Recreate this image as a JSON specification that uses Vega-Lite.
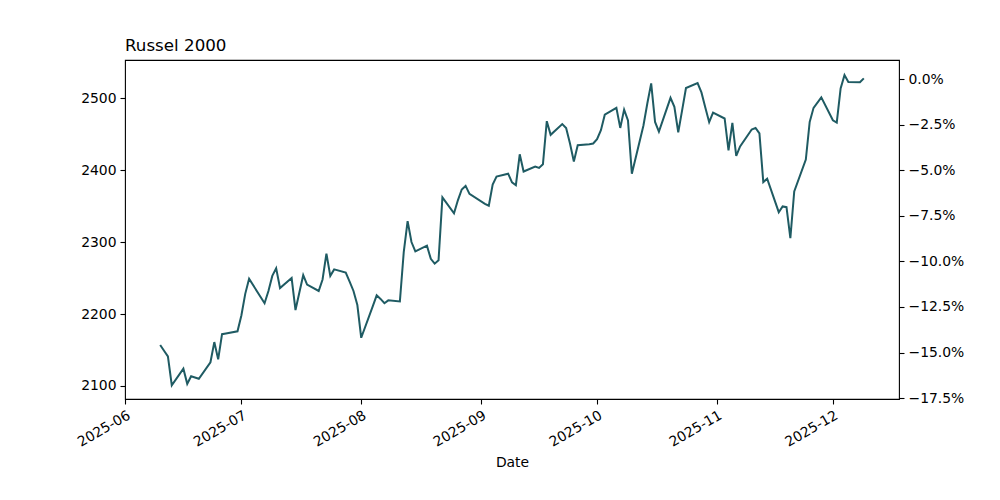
{
  "$schema": "https://vega.github.io/schema/vega-lite/v6.json",
  "width": 774,
  "height": 339,
  "autosize": "none",
  "padding": {"left": 125, "top": 60, "right": 101, "bottom": 101},
  "background": "white",
  "title": {"text": "Russel 2000", "anchor": "start", "frame": "group", "font": "DejaVu Sans", "fontSize": 16.7, "fontWeight": "normal", "color": "black", "offset": 5},
  "config": {
    "view": {"stroke": "black", "strokeWidth": 1.1},
    "axis": {"domain": false, "grid": false, "tickColor": "black", "tickWidth": 1.1, "tickSize": 5, "labelFont": "DejaVu Sans", "labelFontSize": 13.9, "labelColor": "black", "labelPadding": 4, "titleFont": "DejaVu Sans", "titleFontSize": 13.9, "titleFontWeight": "normal", "titleColor": "black"}
  },
  "layer": [
    {
      "data": {"values": [
        {"date": "2025-06-10", "close": 2157},
        {"date": "2025-06-11", "close": 2149},
        {"date": "2025-06-12", "close": 2141},
        {"date": "2025-06-13", "close": 2101},
        {"date": "2025-06-16", "close": 2124},
        {"date": "2025-06-17", "close": 2103},
        {"date": "2025-06-18", "close": 2113.5},
        {"date": "2025-06-20", "close": 2110},
        {"date": "2025-06-23", "close": 2133},
        {"date": "2025-06-24", "close": 2161},
        {"date": "2025-06-25", "close": 2137},
        {"date": "2025-06-26", "close": 2172},
        {"date": "2025-06-27", "close": 2173},
        {"date": "2025-06-30", "close": 2176},
        {"date": "2025-07-01", "close": 2198},
        {"date": "2025-07-02", "close": 2228},
        {"date": "2025-07-03", "close": 2249},
        {"date": "2025-07-07", "close": 2215},
        {"date": "2025-07-08", "close": 2232},
        {"date": "2025-07-09", "close": 2253},
        {"date": "2025-07-10", "close": 2263.5},
        {"date": "2025-07-11", "close": 2236},
        {"date": "2025-07-14", "close": 2250},
        {"date": "2025-07-15", "close": 2205.5},
        {"date": "2025-07-16", "close": 2230},
        {"date": "2025-07-17", "close": 2254},
        {"date": "2025-07-18", "close": 2241},
        {"date": "2025-07-21", "close": 2232},
        {"date": "2025-07-22", "close": 2248},
        {"date": "2025-07-23", "close": 2284},
        {"date": "2025-07-24", "close": 2253},
        {"date": "2025-07-25", "close": 2262},
        {"date": "2025-07-28", "close": 2257.5},
        {"date": "2025-07-29", "close": 2245},
        {"date": "2025-07-30", "close": 2232},
        {"date": "2025-07-31", "close": 2212.5},
        {"date": "2025-08-01", "close": 2167},
        {"date": "2025-08-04", "close": 2211},
        {"date": "2025-08-05", "close": 2226},
        {"date": "2025-08-06", "close": 2221},
        {"date": "2025-08-07", "close": 2215},
        {"date": "2025-08-08", "close": 2219},
        {"date": "2025-08-11", "close": 2217.5},
        {"date": "2025-08-12", "close": 2286},
        {"date": "2025-08-13", "close": 2329},
        {"date": "2025-08-14", "close": 2300},
        {"date": "2025-08-15", "close": 2287},
        {"date": "2025-08-18", "close": 2295},
        {"date": "2025-08-19", "close": 2276.6},
        {"date": "2025-08-20", "close": 2270},
        {"date": "2025-08-21", "close": 2274.6},
        {"date": "2025-08-22", "close": 2362},
        {"date": "2025-08-25", "close": 2340},
        {"date": "2025-08-26", "close": 2358},
        {"date": "2025-08-27", "close": 2373},
        {"date": "2025-08-28", "close": 2378},
        {"date": "2025-08-29", "close": 2367},
        {"date": "2025-09-02", "close": 2353},
        {"date": "2025-09-03", "close": 2350.5},
        {"date": "2025-09-04", "close": 2380},
        {"date": "2025-09-05", "close": 2391},
        {"date": "2025-09-08", "close": 2395},
        {"date": "2025-09-09", "close": 2383},
        {"date": "2025-09-10", "close": 2379},
        {"date": "2025-09-11", "close": 2422},
        {"date": "2025-09-12", "close": 2398},
        {"date": "2025-09-15", "close": 2405},
        {"date": "2025-09-16", "close": 2403},
        {"date": "2025-09-17", "close": 2408},
        {"date": "2025-09-18", "close": 2468},
        {"date": "2025-09-19", "close": 2449},
        {"date": "2025-09-22", "close": 2464},
        {"date": "2025-09-23", "close": 2458.6},
        {"date": "2025-09-24", "close": 2436.9},
        {"date": "2025-09-25", "close": 2412},
        {"date": "2025-09-26", "close": 2434.5},
        {"date": "2025-09-29", "close": 2436},
        {"date": "2025-09-30", "close": 2437},
        {"date": "2025-10-01", "close": 2443},
        {"date": "2025-10-02", "close": 2455.4},
        {"date": "2025-10-03", "close": 2477},
        {"date": "2025-10-06", "close": 2486.5},
        {"date": "2025-10-07", "close": 2458.6},
        {"date": "2025-10-08", "close": 2484},
        {"date": "2025-10-09", "close": 2469},
        {"date": "2025-10-10", "close": 2395},
        {"date": "2025-10-13", "close": 2462},
        {"date": "2025-10-14", "close": 2492.6},
        {"date": "2025-10-15", "close": 2520.5},
        {"date": "2025-10-16", "close": 2467},
        {"date": "2025-10-17", "close": 2453.6},
        {"date": "2025-10-20", "close": 2500.4},
        {"date": "2025-10-21", "close": 2488},
        {"date": "2025-10-22", "close": 2452.6},
        {"date": "2025-10-23", "close": 2483},
        {"date": "2025-10-24", "close": 2514},
        {"date": "2025-10-27", "close": 2521},
        {"date": "2025-10-28", "close": 2508},
        {"date": "2025-10-29", "close": 2487},
        {"date": "2025-10-30", "close": 2466.6},
        {"date": "2025-10-31", "close": 2480},
        {"date": "2025-11-03", "close": 2471.7},
        {"date": "2025-11-04", "close": 2427.5},
        {"date": "2025-11-05", "close": 2465.6},
        {"date": "2025-11-06", "close": 2419.6},
        {"date": "2025-11-07", "close": 2433},
        {"date": "2025-11-10", "close": 2456.4},
        {"date": "2025-11-11", "close": 2458.6},
        {"date": "2025-11-12", "close": 2451},
        {"date": "2025-11-13", "close": 2383.3},
        {"date": "2025-11-14", "close": 2388},
        {"date": "2025-11-17", "close": 2341.5},
        {"date": "2025-11-18", "close": 2349.5},
        {"date": "2025-11-19", "close": 2348.5},
        {"date": "2025-11-20", "close": 2305.3},
        {"date": "2025-11-21", "close": 2370.4},
        {"date": "2025-11-24", "close": 2414.6},
        {"date": "2025-11-25", "close": 2467},
        {"date": "2025-11-26", "close": 2486.5},
        {"date": "2025-11-28", "close": 2501},
        {"date": "2025-12-01", "close": 2469.3},
        {"date": "2025-12-02", "close": 2466},
        {"date": "2025-12-03", "close": 2513.5},
        {"date": "2025-12-04", "close": 2532},
        {"date": "2025-12-05", "close": 2522.3},
        {"date": "2025-12-08", "close": 2522},
        {"date": "2025-12-09", "close": 2527.5}
      ]},
      "mark": {"type": "line", "color": "#1f5b63", "strokeWidth": 2},
      "encoding": {
        "x": {
          "field": "date", "type": "temporal",
          "scale": {"type": "utc", "domain": [
            {"year": 2025, "month": 5, "date": 31, "hours": 21, "minutes": 36, "utc": true},
            {"year": 2025, "month": 12, "date": 18, "hours": 2, "minutes": 24, "utc": true}
          ]},
          "axis": {
            "title": "Date",
            "titlePadding": 6,
            "format": "%Y-%m",
            "labelAngle": -30,
            "labelAlign": "right",
            "labelBaseline": "top",
            "labelOverlap": false,
            "values": [
              {"year": 2025, "month": 6, "date": 1, "utc": true},
              {"year": 2025, "month": 7, "date": 1, "utc": true},
              {"year": 2025, "month": 8, "date": 1, "utc": true},
              {"year": 2025, "month": 9, "date": 1, "utc": true},
              {"year": 2025, "month": 10, "date": 1, "utc": true},
              {"year": 2025, "month": 11, "date": 1, "utc": true},
              {"year": 2025, "month": 12, "date": 1, "utc": true}
            ]
          }
        },
        "y": {
          "field": "close", "type": "quantitative",
          "scale": {"domain": [2081.9, 2553], "nice": false, "zero": false},
          "axis": {"title": null, "values": [2100, 2200, 2300, 2400, 2500], "format": "d"}
        }
      }
    },
    {
      "data": {"values": [{"pct": 0}]},
      "mark": {"type": "point", "opacity": 0},
      "encoding": {
        "y": {
          "field": "pct", "type": "quantitative",
          "scale": {"domain": [-0.1755, 0.01046], "nice": false, "zero": false},
          "axis": {"orient": "right", "title": null, "format": ".1%", "values": [0, -0.025, -0.05, -0.075, -0.1, -0.125, -0.15, -0.175]}
        }
      }
    }
  ],
  "resolve": {"scale": {"y": "independent"}}
}
